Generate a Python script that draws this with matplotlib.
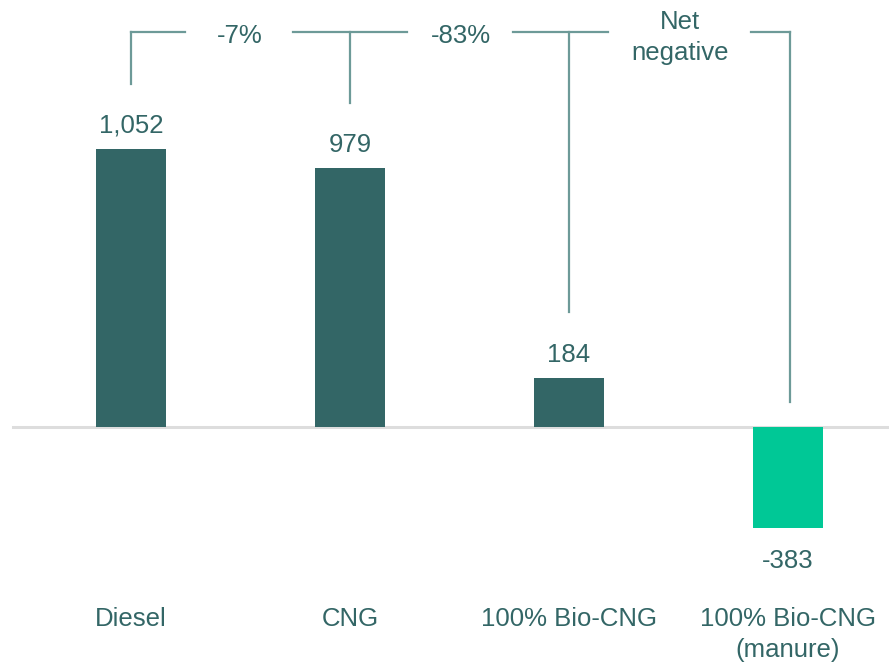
import matplotlib.pyplot as plt

plt.rcParams['font.family'] = ['Liberation Sans', 'DejaVu Sans']

# Datos
categories = ['Diesel', 'CNG', '100% Bio-CNG', '100% Bio-CNG\n(manure)']
values = [1052, 979, 184, -383]
value_labels = ['1,052', '979', '184', '-383']
change_labels = ['-7%', '-83%', 'Net\nnegative']

DARK = '#336666'
GREEN = '#00c896'
LINE = '#6d9a98'
FS = 18.5

fig = plt.figure(figsize=(8.89, 6.65), dpi=100)
ax = fig.add_axes([0, 0, 1, 1])
ax.set_xlim(-0.598, 3.461)
ax.set_ylim(-900, 1616)
ax.axis('off')

x = list(range(len(categories)))
colors = [DARK if v >= 0 else GREEN for v in values]
ax.bar(x, values, width=0.32, color=colors, zorder=2)

# Línea de cero
ax.plot([-0.54, 3.461], [0, 0], color='#dddddd', lw=2.2, zorder=1)

# Etiquetas de valores
for xi, v, lab in zip(x, values, value_labels):
    if v >= 0:
        ax.text(xi, v + 90, lab, ha='center', va='center', fontsize=FS, color=DARK)
    else:
        ax.text(xi, v - 125, lab, ha='center', va='center', fontsize=FS, color=DARK)

# Categorías
for xi, cat in zip(x, categories):
    ax.text(xi, -680, cat, ha='center', va='top', fontsize=FS, color=DARK,
            linespacing=1.4)

# Corchetes de cambio
top = 1495
bottoms = [1297, 1226, 435, 95]
vx = [0, 1, 2, 3.01]
for xi, b in zip(vx, bottoms):
    ax.plot([xi, xi], [b, top], color=LINE, lw=1.6, zorder=1)

# segmentos horizontales (huecos alrededor del texto)
segs = [(0, 0.247), (0.739, 1.26), (1.744, 2.18), (2.831, 3.01)]
for a, b in segs:
    ax.plot([a, b], [top, top], color=LINE, lw=1.6, zorder=1)

ax.text(0.497, top - 15, change_labels[0], ha='center', va='center', fontsize=FS, color=DARK)
ax.text(1.507, top - 15, change_labels[1], ha='center', va='center', fontsize=FS, color=DARK)
ax.text(2.507, top - 20, change_labels[2], ha='center', va='center', fontsize=FS, color=DARK,
        linespacing=1.35)

fig.savefig('out.png', dpi=100)
